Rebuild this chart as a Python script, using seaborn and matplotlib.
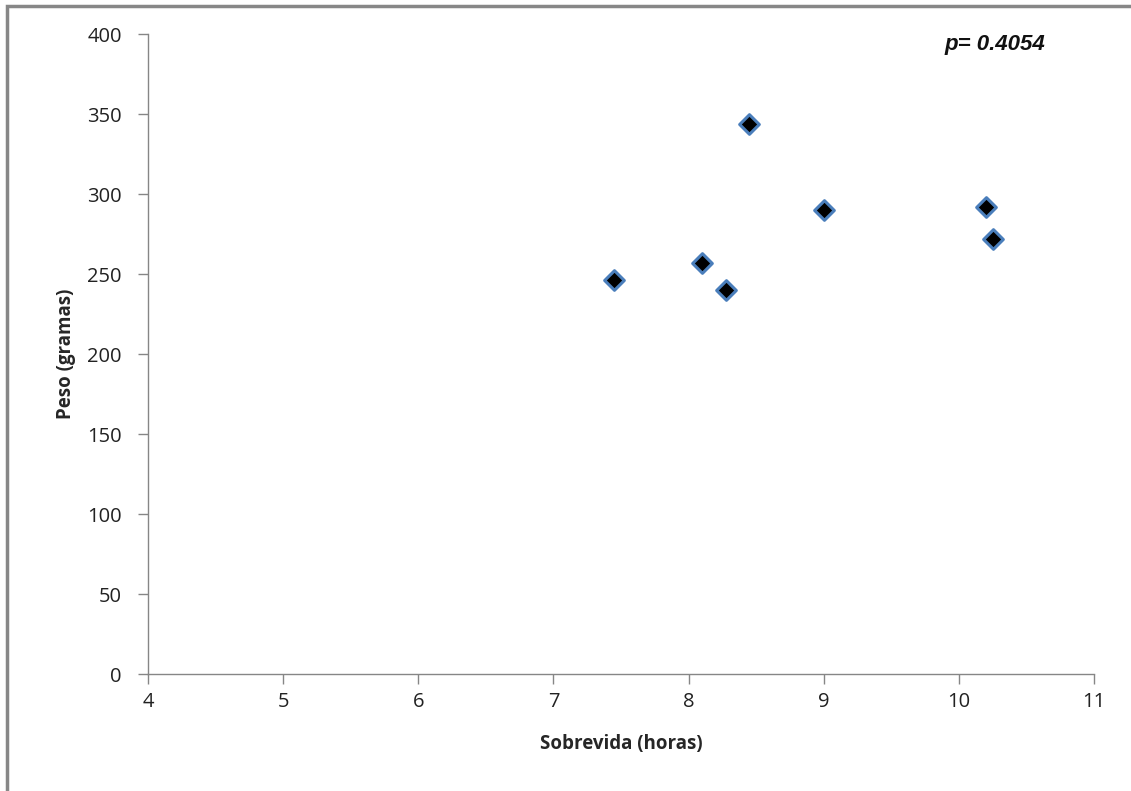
import matplotlib
matplotlib.use('Agg')
import numpy as np
import pandas as pd
import seaborn as sns
import matplotlib.pyplot as plt
from matplotlib.patches import Rectangle
from matplotlib.font_manager import FontProperties

sobrevida = [7.45, 8.1, 8.28, 8.45, 9.0, 10.2, 10.25]
peso = [246, 257, 240, 344, 290, 292, 272]
x_ticks = [4, 5, 6, 7, 8, 9, 10, 11]
y_ticks = [0, 50, 100, 150, 200, 250, 300, 350, 400]

df = pd.DataFrame({'Sobrevida': sobrevida, 'Peso': peso})

sns.set_style('white')
plt.rcParams['font.family'] = ['Open Sans', 'DejaVu Sans']

fig = plt.figure(figsize=(11.31, 7.91), dpi=100)
ax = fig.add_axes([0.1309, 0.1479, 0.8364, 0.8091])

sns.scatterplot(data=df, x='Sobrevida', y='Peso', ax=ax, marker='D', s=100,
                color='black', edgecolor='#4a7ebb', linewidth=2.2, zorder=3)

ax.set_xlim(4, 11)
ax.set_ylim(0, 400)
ax.set_xticks(x_ticks)
ax.set_yticks(y_ticks)
ax.tick_params(axis='both', direction='out', length=7, width=1, color='#868686',
               labelsize=14.5, labelcolor='#222222', bottom=True, left=True)
ax.tick_params(axis='x', pad=6)
ax.tick_params(axis='y', pad=12)
for side in ['top', 'right']:
    ax.spines[side].set_visible(False)
for side in ['left', 'bottom']:
    ax.spines[side].set_color('#868686')
    ax.spines[side].set_linewidth(1)

ax.set_xlabel('Sobrevida (horas)', fontsize=13.5, fontweight='bold', labelpad=16)
ax.set_ylabel('Peso (gramas)', fontsize=13.5, fontweight='bold', labelpad=8)

p_font = FontProperties(family='Liberation Sans', weight='bold', style='italic', size=16)
ax.text(0.948, 0.983, 'p= 0.4054', transform=ax.transAxes, ha='right', va='center',
        fontproperties=p_font, color='#111111')

fig.patches.append(Rectangle((0.006, -0.01), 1.2, 1.003, transform=fig.transFigure,
                             fill=False, edgecolor='#878787', linewidth=2.5))

fig.savefig('out.png', dpi=100)
